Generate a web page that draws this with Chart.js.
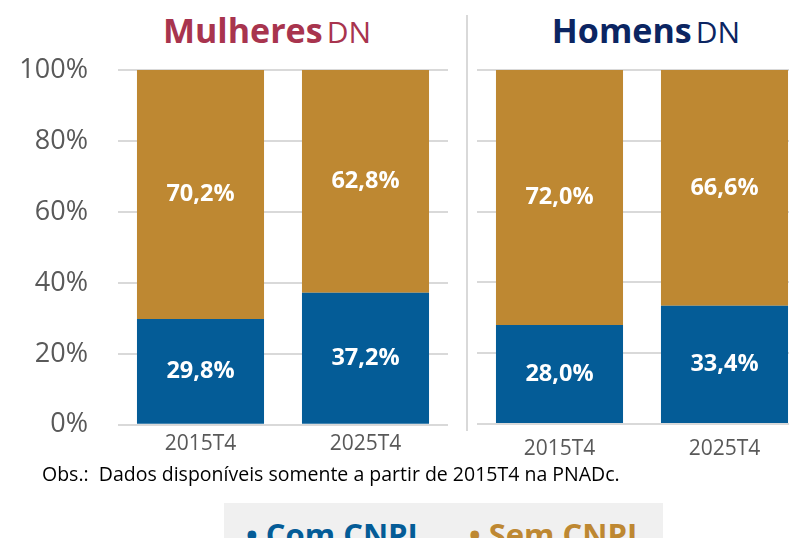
<!DOCTYPE html>
<html>
<head>
<meta charset="utf-8">
<script src="https://cdn.jsdelivr.net/npm/chart.js@4"></script>
<style>
  html, body { margin: 0; padding: 0; width: 789px; height: 538px; overflow: hidden; background: #fff; }
  .box { position: absolute; }
  .title { position: absolute; top: 7px; font-family: 'Open Sans', sans-serif; white-space: nowrap; transform: translateX(-50%); }
  .title b { font-size: 34px; font-weight: 700; }
  .title span { font-size: 30px; font-weight: 400; }
  .sep { position: absolute; left: 466px; top: 15px; width: 2px; height: 416px; background: #d9d9d9; }
  .obs { position: absolute; left: 42px; top: 460px; font-family: 'Open Sans', sans-serif; font-size: 19.5px; color: #000; white-space: nowrap; }
  .legend { position: absolute; left: 224px; top: 503px; width: 439px; height: 60px; background: #f0f0f0; font-family: 'Open Sans', sans-serif; font-weight: 700; font-size: 31px; white-space: nowrap; }
  .legend div { position: absolute; top: 10px; }
</style>
</head>
<body>
<div class="title" style="left:267px;color:#A8344E"><b>Mulheres</b> <span>DN</span></div>
<div class="title" style="left:646px;color:#0B2562"><b>Homens</b> <span>DN</span></div>
<div class="sep"></div>
<div class="box" style="left:0;top:0;width:455px;height:471px"><canvas id="mulheres"></canvas></div>
<div class="box" style="left:477px;top:0;width:330px;height:464px"><canvas id="homens"></canvas></div>
<div class="obs">Obs.:&nbsp; Dados disponíveis somente a partir de 2015T4 na PNADc.</div>
<div class="legend" id="legend"></div>
<script>
const periods = ['2015T4', '2025T4'];
const seriesNames = ['Com CNPJ', 'Sem CNPJ'];
const mulheresCom = [29.8, 37.2];
const mulheresSem = [70.2, 62.8];
const homensCom = [28.0, 33.4];
const homensSem = [72.0, 66.6];
const yTicks = [0, 20, 40, 60, 80, 100];

const BLUE = '#045C97';
const GOLD = '#BE8832';

// white value labels in the middle of each bar
const barLabels = {
    id: 'barLabels',
    afterDatasetsDraw(chart) {
        const ctx = chart.ctx;
        ctx.save();
        ctx.fillStyle = '#fff';
        ctx.font = '700 23.5px "Open Sans"';
        ctx.textAlign = 'center';
        ctx.textBaseline = 'middle';
        chart.data.datasets.forEach((ds, i) => {
            chart.getDatasetMeta(i).data.forEach((bar, j) => {
                const mid = (bar.y + bar.base) / 2;
                ctx.fillText(ds.data[j].toFixed(1).replace('.', ',') + '%', bar.x, mid);
            });
        });
        ctx.restore();
    }
};

function makeChart(id, com, sem, showY, labelPad) {
    return new Chart(document.getElementById(id), {
        type: 'bar',
        data: {
            labels: periods,
            datasets: [
                { label: seriesNames[0], data: com, backgroundColor: BLUE },
                { label: seriesNames[1], data: sem, backgroundColor: GOLD }
            ]
        },
        options: {
            responsive: true,
            maintainAspectRatio: false,
            animation: false,
            layout: { padding: { top: 70, right: showY ? 7 : 0, left: 0, bottom: 0 } },
            datasets: { bar: { categoryPercentage: 1, barPercentage: 0.77 } },
            plugins: { legend: { display: false }, tooltip: { enabled: false } },
            scales: {
                x: {
                    stacked: true,
                    grid: { display: false },
                    border: { display: false },
                    ticks: { color: '#595959', font: { family: 'Open Sans', size: 21 }, padding: labelPad },
                    afterFit: s => { s.height = 40; }
                },
                y: {
                    stacked: true,
                    display: showY ? true : 'auto',
                    min: 0,
                    max: 100,
                    afterBuildTicks: s => { s.ticks = yTicks.map(v => ({ value: v })); },
                    grid: { color: '#d9d9d9', lineWidth: 2, drawTicks: false },
                    border: { display: false },
                    ticks: {
                        display: showY,
                        color: '#595959',
                        font: { family: 'Open Sans', size: 27 },
                        padding: 30,
                        callback: v => v + '%'
                    },
                    afterFit: s => { s.width = showY ? 118 : 0; }
                }
            }
        },
        plugins: [barLabels]
    });
}

makeChart('mulheres', mulheresCom, mulheresSem, true, -1);
makeChart('homens', homensCom, homensSem, false, 4);

// legend built from the series names
const legend = document.getElementById('legend');
[[seriesNames[0], BLUE, 22], [seriesNames[1], GOLD, 245]].forEach(([name, col, x]) => {
    const d = document.createElement('div');
    d.style.left = x + 'px';
    d.style.color = col;
    d.textContent = '• ' + name;
    legend.appendChild(d);
});
</script>
</body>
</html>
